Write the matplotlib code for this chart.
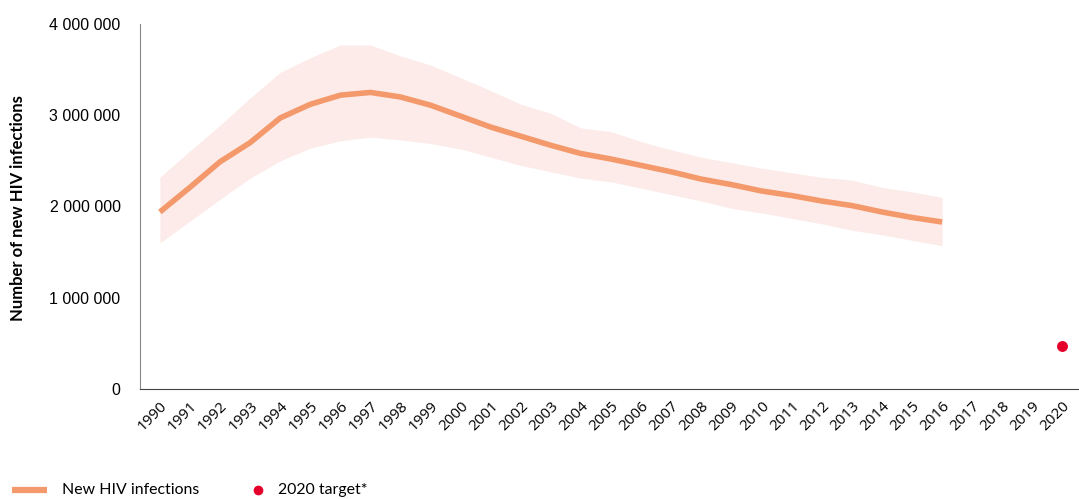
import matplotlib
matplotlib.use("Agg")
import matplotlib.pyplot as plt
from matplotlib.lines import Line2D
from matplotlib.ticker import FuncFormatter
from matplotlib.transforms import ScaledTranslation

years = list(range(1990, 2017))
new_infections = [1.94, 2.21, 2.49, 2.70, 2.97, 3.12, 3.22, 3.25, 3.20, 3.11,
                  2.99, 2.87, 2.77, 2.67, 2.58, 2.52, 2.45, 2.38, 2.30, 2.24,
                  2.17, 2.12, 2.06, 2.01, 1.94, 1.88, 1.83]
upper = [2.32, 2.61, 2.89, 3.19, 3.47, 3.63, 3.77, 3.77, 3.65, 3.55,
         3.41, 3.27, 3.12, 3.02, 2.86, 2.82, 2.71, 2.62, 2.54, 2.48,
         2.42, 2.37, 2.32, 2.29, 2.21, 2.16, 2.10]
lower = [1.60, 1.84, 2.08, 2.31, 2.50, 2.64, 2.72, 2.76, 2.73, 2.69,
         2.63, 2.54, 2.45, 2.38, 2.31, 2.27, 2.20, 2.13, 2.06, 1.98,
         1.93, 1.87, 1.81, 1.74, 1.69, 1.63, 1.57]
target_year = [2020]
target_value = [0.47]
all_years = list(range(1990, 2021))
legend_labels = ["New HIV infections", "2020 target*"]

scale = 1e6
line_color = "#F4996B"
fill_color = "#FCEBE8"
dot_color = "#E4002B"

W, H = 1079, 499
fig = plt.figure(figsize=(W/100, H/100), dpi=100)
ax = fig.add_axes([140/W, 1-389/H, 1-140/W, (389-24)/H])

ax.fill_between(years, [v*scale for v in lower], [v*scale for v in upper],
                color=fill_color, linewidth=0)
ax.plot(years, [v*scale for v in new_infections], color=line_color, linewidth=4,
        solid_capstyle="butt")
ax.scatter(target_year, [v*scale for v in target_value], color=dot_color, s=62,
           zorder=3, linewidths=0)

ax.set_xlim(1989.34, 2020.55)
ax.set_ylim(0, 4e6)
ax.set_yticks([0, 1e6, 2e6, 3e6, 4e6])
ax.yaxis.set_major_formatter(FuncFormatter(lambda v, p: f"{int(v):,}".replace(",", " ")))
ax.set_xticks(all_years)
ax.set_xticklabels([str(y) for y in all_years], rotation=45, ha="right",
                   rotation_mode="anchor", fontsize=11, family="Open Sans")
offset = ScaledTranslation(4/100, 0, fig.dpi_scale_trans)
for lab in ax.get_xticklabels():
    lab.set_transform(lab.get_transform() + offset)
for lab in ax.get_yticklabels():
    lab.set_fontfamily("Liberation Sans")
    lab.set_fontsize(11.5)
ax.tick_params(axis="y", length=0, pad=14)
ax.tick_params(axis="x", length=0, pad=7)

for s in ["top", "right"]:
    ax.spines[s].set_visible(False)
ax.spines["left"].set_color("#888888")
ax.spines["bottom"].set_color("#444444")

fig.text(0.017, 1-208/H, "Number of new HIV infections", rotation=90,
         ha="center", va="center", fontsize=12, fontweight="bold", family="Lato")

# legend drawn in figure coordinates
ly = 1 - 490/H
fig.add_artist(Line2D([12/W, 47/W], [ly, ly], color=line_color, linewidth=4.5,
                      transform=fig.transFigure, solid_capstyle="butt"))
fig.text(62/W, ly, legend_labels[0], ha="left", va="center", fontsize=11.4,
         family="Lato")
fig.add_artist(Line2D([258/W], [ly], marker="o", linestyle="none", color=dot_color,
                      markersize=7, markeredgewidth=0, transform=fig.transFigure))
fig.text(278/W, ly, legend_labels[1], ha="left", va="center", fontsize=11.4,
         family="Lato")

fig.savefig("out.png", dpi=100)
